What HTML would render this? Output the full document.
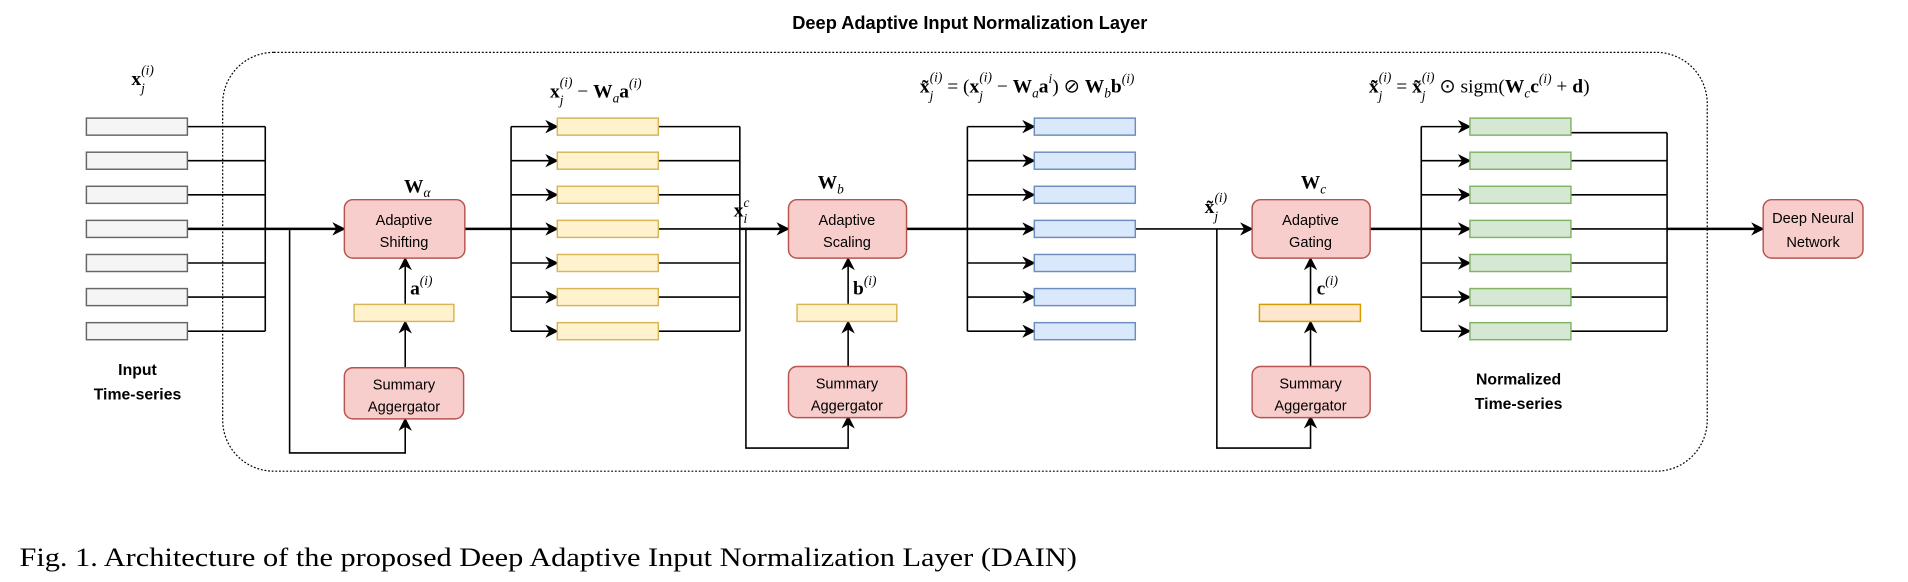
<!DOCTYPE html>
<html><head><meta charset="utf-8"><style>
html,body{margin:0;padding:0;background:#fff}
svg{display:block}
.s{font-family:"Liberation Sans",sans-serif}
.m{font-family:"Liberation Serif",serif}
</style></head><body>
<svg width="1908" height="582" viewBox="0 0 1568 478" preserveAspectRatio="none" xmlns="http://www.w3.org/2000/svg">
<defs>
<marker id="ar" viewBox="0 0 10 10" refX="9" refY="5" markerWidth="11" markerHeight="11" markerUnits="userSpaceOnUse" orient="auto"><path d="M0,0 L10,5 L0,10 L3,5 z" fill="#000"/></marker>
</defs>
<text x="797" y="24" text-anchor="middle" class="s" font-weight="bold" font-size="15">Deep Adaptive Input Normalization Layer</text>
<rect x="183" y="43" width="1220" height="344" rx="42" fill="none" stroke="#000" stroke-width="1" stroke-dasharray="1.5,1.5"/>
<g fill="none" stroke="#000" stroke-width="1.3">
<path d="M154,104H218M154,132H218M154,160H218M154,216H218M154,244H218M154,272H218M218,104V272"/>
<path d="M154,188H283" stroke-width="2" marker-end="url(#ar)"/>
<path d="M238,188V372H333V344" marker-end="url(#ar)"/>
<path d="M333,302V264" marker-end="url(#ar)"/>
<path d="M333,250V212" marker-end="url(#ar)"/>
<path d="M382,188H420" stroke-width="2"/>
<path d="M420,104V272"/>
<path d="M420,104H458" marker-end="url(#ar)"/><path d="M420,132H458" marker-end="url(#ar)"/><path d="M420,160H458" marker-end="url(#ar)"/><path d="M420,188H458" stroke-width="2" marker-end="url(#ar)"/><path d="M420,216H458" marker-end="url(#ar)"/><path d="M420,244H458" marker-end="url(#ar)"/><path d="M420,272H458" marker-end="url(#ar)"/>
<path d="M541,104H608M541,132H608M541,160H608M541,216H608M541,244H608M541,272H608M608,104V272M541,188H608"/>
<path d="M608,188H648" stroke-width="2" marker-end="url(#ar)"/>
<path d="M613,188V368H697V342" marker-end="url(#ar)"/>
<path d="M697,302V264" marker-end="url(#ar)"/>
<path d="M697,250V212" marker-end="url(#ar)"/>
<path d="M745,188H795" stroke-width="2"/>
<path d="M795,104V272"/>
<path d="M795,104H850" marker-end="url(#ar)"/><path d="M795,132H850" marker-end="url(#ar)"/><path d="M795,160H850" marker-end="url(#ar)"/><path d="M795,188H850" stroke-width="2" marker-end="url(#ar)"/><path d="M795,216H850" marker-end="url(#ar)"/><path d="M795,244H850" marker-end="url(#ar)"/><path d="M795,272H850" marker-end="url(#ar)"/>
<path d="M933,188H1029" marker-end="url(#ar)"/>
<path d="M1000,188V368H1077V342" marker-end="url(#ar)"/>
<path d="M1077,302V264" marker-end="url(#ar)"/>
<path d="M1077,250V212" marker-end="url(#ar)"/>
<path d="M1126,188H1168" stroke-width="2"/>
<path d="M1168,104V272"/>
<path d="M1168,104H1208" marker-end="url(#ar)"/><path d="M1168,132H1208" marker-end="url(#ar)"/><path d="M1168,160H1208" marker-end="url(#ar)"/><path d="M1168,188H1208" stroke-width="2" marker-end="url(#ar)"/><path d="M1168,216H1208" marker-end="url(#ar)"/><path d="M1168,244H1208" marker-end="url(#ar)"/><path d="M1168,272H1208" marker-end="url(#ar)"/>
<path d="M1291,109H1370M1291,132H1370M1291,160H1370M1291,188H1370M1291,216H1370M1291,244H1370M1291,272H1370M1370,109V272"/>
<path d="M1370,188H1449" stroke-width="2" marker-end="url(#ar)"/>
</g>
<g stroke-width="1.2">
<g fill="#f5f5f5" stroke="#666"><rect x="71" y="97" width="83" height="14"/><rect x="71" y="125" width="83" height="14"/><rect x="71" y="153" width="83" height="14"/><rect x="71" y="181" width="83" height="14"/><rect x="71" y="209" width="83" height="14"/><rect x="71" y="237" width="83" height="14"/><rect x="71" y="265" width="83" height="14"/></g>
<g fill="#fff2cc" stroke="#d6b656"><rect x="458" y="97" width="83" height="14"/><rect x="458" y="125" width="83" height="14"/><rect x="458" y="153" width="83" height="14"/><rect x="458" y="181" width="83" height="14"/><rect x="458" y="209" width="83" height="14"/><rect x="458" y="237" width="83" height="14"/><rect x="458" y="265" width="83" height="14"/><rect x="291" y="250" width="82" height="14"/><rect x="655" y="250" width="82" height="14"/></g>
<g fill="#dae8fc" stroke="#6c8ebf"><rect x="850" y="97" width="83" height="14"/><rect x="850" y="125" width="83" height="14"/><rect x="850" y="153" width="83" height="14"/><rect x="850" y="181" width="83" height="14"/><rect x="850" y="209" width="83" height="14"/><rect x="850" y="237" width="83" height="14"/><rect x="850" y="265" width="83" height="14"/></g>
<g fill="#d5e8d4" stroke="#82b366"><rect x="1208" y="97" width="83" height="14"/><rect x="1208" y="125" width="83" height="14"/><rect x="1208" y="153" width="83" height="14"/><rect x="1208" y="181" width="83" height="14"/><rect x="1208" y="209" width="83" height="14"/><rect x="1208" y="237" width="83" height="14"/><rect x="1208" y="265" width="83" height="14"/></g>
<rect x="1035" y="250" width="83" height="14" fill="#ffe6cc" stroke="#d79b00"/>
</g>
<g fill="#f8cecc" stroke="#b85450" stroke-width="1.2">
<rect x="283" y="164" width="99" height="48" rx="7"/>
<rect x="283" y="302" width="98" height="42" rx="7"/>
<rect x="648" y="164" width="97" height="48" rx="7"/>
<rect x="648" y="301" width="97" height="42" rx="7"/>
<rect x="1029" y="164" width="97" height="48" rx="7"/>
<rect x="1029" y="301" width="97" height="42" rx="7"/>
<rect x="1449" y="164" width="82" height="48" rx="7"/>
</g>
<g class="s" font-size="12" text-anchor="middle">
<text x="332" y="185">Adaptive</text><text x="332" y="203">Shifting</text>
<text x="332" y="320">Summary</text><text x="332" y="338">Aggergator</text>
<text x="696" y="185">Adaptive</text><text x="696" y="203">Scaling</text>
<text x="696" y="319">Summary</text><text x="696" y="337">Aggergator</text>
<text x="1077" y="185">Adaptive</text><text x="1077" y="203">Gating</text>
<text x="1077" y="319">Summary</text><text x="1077" y="337">Aggergator</text>
<text x="1490" y="183">Deep Neural</text><text x="1490" y="203">Network</text>
</g>
<g class="s" font-size="13" font-weight="bold" text-anchor="middle">
<text x="113" y="308">Input</text><text x="113" y="328">Time-series</text>
<text x="1248" y="316">Normalized</text><text x="1248" y="336">Time-series</text>
</g>
<g class="m" font-size="16">
<text x="108" y="70" font-weight="bold">x<tspan font-size="11" font-style="italic" font-weight="normal" dy="6">j</tspan><tspan font-size="11" font-style="italic" font-weight="normal" dx="-3" dy="-15">(i)</tspan></text>
<text x="452" y="80" font-weight="bold">x<tspan font-size="11" font-style="italic" font-weight="normal" dy="6">j</tspan><tspan font-size="11" font-style="italic" font-weight="normal" dx="-3" dy="-15">(i)</tspan><tspan dy="9" font-weight="normal"> − </tspan>W<tspan font-size="11" font-style="italic" font-weight="normal" dy="4">a</tspan><tspan dy="-4">a</tspan><tspan font-size="11" font-style="italic" font-weight="normal" dy="-8">(i)</tspan></text>
<text x="332" y="158" font-weight="bold">W<tspan font-size="11" font-style="italic" font-weight="normal" dy="4">α</tspan></text>
<text x="672" y="155" font-weight="bold">W<tspan font-size="11" font-style="italic" font-weight="normal" dy="4">b</tspan></text>
<text x="1069" y="155" font-weight="bold">W<tspan font-size="11" font-style="italic" font-weight="normal" dy="4">c</tspan></text>
<text x="337" y="242" font-weight="bold">a<tspan font-size="11" font-style="italic" font-weight="normal" dy="-8">(i)</tspan></text>
<text x="701" y="242" font-weight="bold">b<tspan font-size="11" font-style="italic" font-weight="normal" dy="-8">(i)</tspan></text>
<text x="1082" y="242" font-weight="bold">c<tspan font-size="11" font-style="italic" font-weight="normal" dy="-8">(i)</tspan></text>
<text x="603" y="178" font-weight="bold">x<tspan font-size="11" font-style="italic" font-weight="normal" dy="5">i</tspan><tspan font-size="11" font-style="italic" font-weight="normal" dx="-3" dy="-13">c</tspan></text>
<text x="990" y="175" font-weight="bold">x̃<tspan font-size="11" font-style="italic" font-weight="normal" dy="6">j</tspan><tspan font-size="11" font-style="italic" font-weight="normal" dx="-3" dy="-15">(i)</tspan></text>
<text x="756" y="76" font-weight="bold">x̃<tspan font-size="11" font-style="italic" font-weight="normal" dy="6">j</tspan><tspan font-size="11" font-style="italic" font-weight="normal" dx="-3" dy="-15">(i)</tspan><tspan dy="9" font-weight="normal"> = (</tspan>x<tspan font-size="11" font-style="italic" font-weight="normal" dy="6">j</tspan><tspan font-size="11" font-style="italic" font-weight="normal" dx="-3" dy="-15">(i)</tspan><tspan dy="9" font-weight="normal"> − </tspan>W<tspan font-size="11" font-style="italic" font-weight="normal" dy="4">a</tspan><tspan dy="-4">a</tspan><tspan font-size="11" font-style="italic" font-weight="normal" dy="-8">i</tspan><tspan dy="8" font-weight="normal">) ⊘ </tspan>W<tspan font-size="11" font-style="italic" font-weight="normal" dy="4">b</tspan><tspan dy="-4">b</tspan><tspan font-size="11" font-style="italic" font-weight="normal" dy="-8">(i)</tspan></text>
<text x="1125" y="76" font-weight="bold">x̃̃<tspan font-size="11" font-style="italic" font-weight="normal" dy="6">j</tspan><tspan font-size="11" font-style="italic" font-weight="normal" dx="-3" dy="-15">(i)</tspan><tspan dy="9" font-weight="normal"> = </tspan>x̃<tspan font-size="11" font-style="italic" font-weight="normal" dy="6">j</tspan><tspan font-size="11" font-style="italic" font-weight="normal" dx="-3" dy="-15">(i)</tspan><tspan dy="9" font-weight="normal"> ⊙ sigm(</tspan>W<tspan font-size="11" font-style="italic" font-weight="normal" dy="4">c</tspan><tspan dy="-4">c</tspan><tspan font-size="11" font-style="italic" font-weight="normal" dy="-8">(i)</tspan><tspan dy="8" font-weight="normal"> + </tspan>d<tspan font-weight="normal">)</tspan></text>
</g>
<text x="16" y="465" class="m" font-size="22" textLength="869" lengthAdjust="spacingAndGlyphs">Fig. 1.  Architecture of the proposed Deep Adaptive Input Normalization Layer (DAIN)</text>
</svg>
</body></html>
